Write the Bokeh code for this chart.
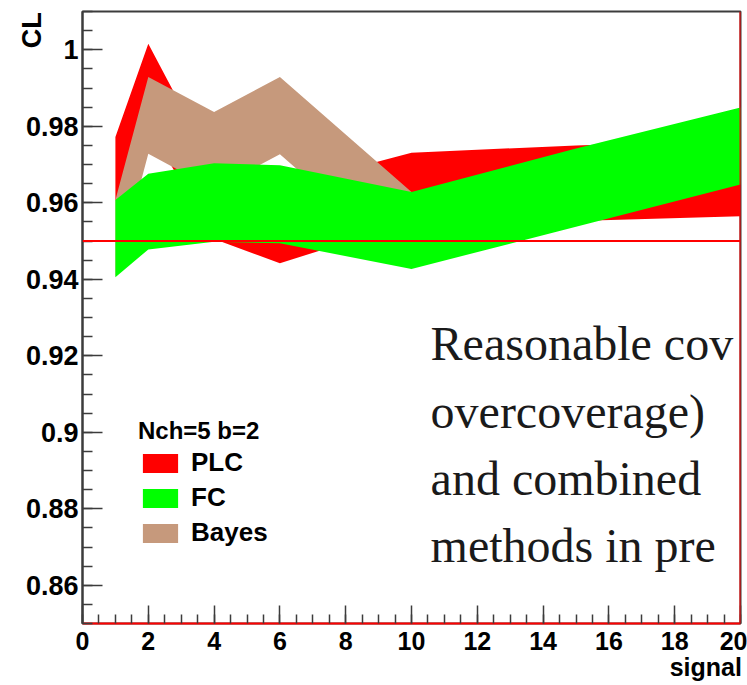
import numpy as np
from bokeh.plotting import figure
from bokeh.models import FixedTicker, Span, Label, Legend, LegendItem
from bokeh.embed import file_html
from bokeh.resources import INLINE

# Coverage bands (lower / upper edge of CL) versus true signal, Nch=5, b=2
signal_plc = [1, 2, 4, 6, 10, 15, 20]
plc_low = [0.9605, 0.9800, 0.9505, 0.9442, 0.9550, 0.9552, 0.9565]
plc_high = [0.9772, 1.0016, 0.9690, 0.9640, 0.9731, 0.9750, 0.9765]

signal_fc = [1, 2, 4, 6, 10, 15, 20]
fc_low = [0.9405, 0.9478, 0.9498, 0.9494, 0.9427, 0.9537, 0.9648]
fc_high = [0.9607, 0.9676, 0.9703, 0.9698, 0.9628, 0.9742, 0.9849]

signal_bayes = [1, 2, 4, 6, 10]
bayes_low = [0.9405, 0.9728, 0.9635, 0.9727, 0.9426]
bayes_high = [0.9607, 0.9929, 0.9837, 0.9929, 0.9628]

nominal_cl = 0.95

x_ticks = [0, 2, 4, 6, 8, 10, 12, 14, 16, 18, 20]
y_ticks = [0.86, 0.88, 0.9, 0.92, 0.94, 0.96, 0.98, 1.0]
y_tick_labels = ["0.86", "0.88", "0.9", "0.92", "0.94", "0.96", "0.98", "1"]

note_lines = ["Reasonable cov", "overcoverage)", "and combined", "methods in pre"]

FRAME = "#3c3c3c"
SANS = "Liberation Sans"
NBSP = "\u00a0"

p = figure(width=747, height=685, x_range=(0, 20), y_range=(0.85, 1.01),
           output_backend="svg", toolbar_location=None,
           min_border_left=82, min_border_right=7,
           min_border_top=11, min_border_bottom=62)
p.xgrid.visible = False
p.ygrid.visible = False
p.outline_line_color = FRAME
p.outline_line_width = 2
p.background_fill_color = "white"
p.border_fill_color = "white"

# bands: PLC underneath, Bayes over it, FC on top
r_plc = p.varea(x=signal_plc, y1=plc_low, y2=plc_high, fill_color="#ff0000")
r_bayes = p.varea(x=signal_bayes, y1=bayes_low, y2=bayes_high, fill_color="#c6997c")
r_fc = p.varea(x=signal_fc, y1=fc_low, y2=fc_high, fill_color="#00ff00")

p.add_layout(Span(location=nominal_cl, dimension="width", line_color="#ff0000", line_width=2))
p.add_layout(Span(location=20, dimension="height", line_color="#ff0000", line_width=2))

# axes in ROOT style: ticks pointing into the frame
p.xaxis.ticker = FixedTicker(ticks=x_ticks, minor_ticks=list(np.arange(0, 20.01, 0.5)))
p.yaxis.ticker = FixedTicker(ticks=y_ticks, minor_ticks=list(np.round(np.arange(0.85, 1.0101, 0.005), 3)))
p.yaxis.major_label_overrides = dict(zip(y_ticks, y_tick_labels))

for ax in (p.xaxis[0], p.yaxis[0]):
    ax.major_tick_out = 0
    ax.minor_tick_out = 0
    ax.major_tick_line_color = FRAME
    ax.minor_tick_line_color = FRAME
    ax.major_tick_line_width = 1.5
    ax.minor_tick_line_width = 1.5
    ax.major_label_text_font = SANS
    ax.major_label_text_font_style = "bold"
    ax.major_label_text_color = "black"
    ax.axis_label_text_font = SANS
    ax.axis_label_text_font_style = "bold"
    ax.axis_label_text_color = "black"
    ax.axis_label_align = "end"

# axis titles sit at the far end of each axis; the label is centred on that
# end, so trailing no-break spaces pull the visible word back inside
p.yaxis.major_tick_in = 20
p.yaxis.minor_tick_in = 10
p.yaxis.axis_line_color = FRAME
p.yaxis.axis_line_width = 2
p.yaxis.major_label_text_font_size = "27px"
p.yaxis.major_label_standoff = 4
p.yaxis.axis_label = "CL" + NBSP * 5
p.yaxis.axis_label_text_font_size = "27px"
p.yaxis.axis_label_standoff = -24

p.xaxis.major_tick_in = 18
p.xaxis.minor_tick_in = 9
p.xaxis.axis_line_color = "#ff0000"
p.xaxis.axis_line_width = 2
p.xaxis.major_label_text_font_size = "25px"
p.xaxis.major_label_standoff = 8
p.xaxis.axis_label = "signal" + NBSP * 10
p.xaxis.axis_label_text_font_size = "25px"
p.xaxis.axis_label_standoff = 0

legend = Legend(items=[LegendItem(label="PLC", renderers=[r_plc]),
                       LegendItem(label="FC", renderers=[r_fc]),
                       LegendItem(label="Bayes", renderers=[r_bayes])],
                location=(56, 75), title="Nch=5 b=2",
                title_text_font=SANS, title_text_font_style="bold",
                title_text_font_size="24px", title_text_color="black",
                title_standoff=2,
                label_text_font=SANS, label_text_font_style="bold",
                label_text_font_size="26px", label_text_color="black",
                glyph_width=44, glyph_height=24, label_standoff=9,
                spacing=4, padding=0, margin=0,
                border_line_alpha=0, background_fill_alpha=0)
p.add_layout(legend)

# summary note
note_y = [0.92317, 0.90553, 0.88802, 0.87050]
for line, yy in zip(note_lines, note_y):
    p.add_layout(Label(x=10.58, y=yy, text=line,
                       text_align="left", text_baseline="alphabetic",
                       text_font="Liberation Serif", text_font_size="48px",
                       text_color="#1a1a1a"))

open("out.html", "w").write(file_html(p, INLINE))
